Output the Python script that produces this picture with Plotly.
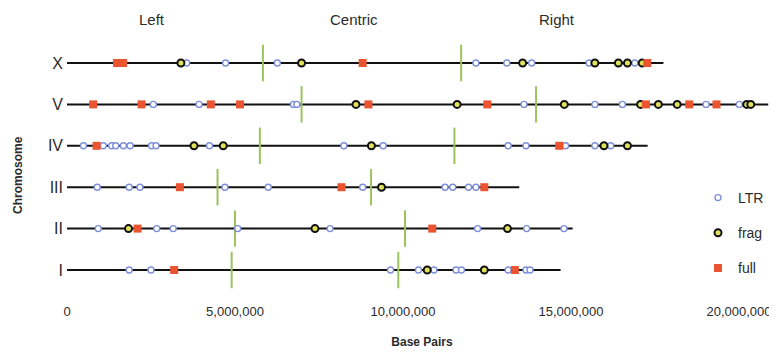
import plotly.graph_objects as go

# ---------------- data (positions in megabases) ----------------
chromosomes = ["I", "II", "III", "IV", "V", "X"]
lengths = [14.69, 15.05, 13.46, 17.28, 20.87, 17.75]
left_arm_end = [4.90, 5.00, 4.48, 5.74, 6.98, 5.83]
right_arm_start = [9.86, 10.06, 9.05, 11.53, 13.96, 11.73]

LTR_I = [1.85, 2.50, 9.63, 10.46, 10.92, 11.58, 11.74, 13.13, 13.66, 13.78]
LTR_II = [0.93, 2.67, 3.16, 5.08, 7.83, 12.22, 13.68, 14.79]
LTR_III = [0.90, 1.85, 2.17, 4.70, 5.99, 8.80, 11.25, 11.48, 11.95, 12.17]
LTR_IV = [0.49, 1.08, 1.33, 1.45, 1.68, 1.88, 2.52, 2.65, 4.24, 8.24, 9.41,
          13.13, 13.66, 14.84, 15.71, 16.18]
LTR_V = [2.57, 3.93, 6.74, 6.84, 13.60, 15.71, 16.53, 19.02, 20.01]
LTR_X = [3.56, 4.72, 6.26, 12.17, 13.09, 13.83, 15.54, 16.90]

frag_I = [10.72, 12.42]
frag_II = [1.83, 7.38, 13.11]
frag_III = [9.36]
frag_IV = [3.78, 4.65, 9.06, 15.98, 16.68]
frag_V = [8.60, 11.61, 14.80, 17.07, 17.60, 18.16, 20.23, 20.35]
frag_X = [3.39, 6.98, 13.56, 15.71, 16.41, 16.68, 17.12]

full_I = [3.19, 13.33]
full_II = [2.10, 10.87]
full_III = [3.36, 8.17, 12.42]
full_IV = [0.88, 14.65]
full_V = [0.78, 2.22, 4.28, 5.15, 8.97, 12.51, 17.23, 18.52, 19.33]
full_X = [1.49, 1.67, 8.80, 17.27]

tick_vals = [0, 5, 10, 15, 20]
tick_labels = ["0", "5,000,000", "10,000,000", "15,000,000", "20,000,000"]
region_labels = ["Left", "Centric", "Right"]
region_centers = [2.53, 8.54, 14.58]

LTR = [LTR_I, LTR_II, LTR_III, LTR_IV, LTR_V, LTR_X]
FRAG = [frag_I, frag_II, frag_III, frag_IV, frag_V, frag_X]
FULL = [full_I, full_II, full_III, full_IV, full_V, full_X]

# ---------------- geometry (page pixels, figure sits 8px in from page corner) ----------------
FONT = "Liberation Sans, Arial, Helvetica, sans-serif"
TXT = "#2b2b2b"
OFF = 8
W, H = 777 - OFF, 356 - OFF
X0_PAGE = 67          # page x of 0 bp
PX_PER_MB = 33.6
ROW_PX = 41.4
ROW0_PAGE = 270       # page y of row "I"
PLOT_BOTTOM_PAGE = 302

ML = X0_PAGE - OFF
MB = H - (PLOT_BOTTOM_PAGE - OFF)
ROW0 = ROW0_PAGE - OFF
PH = H - MB
PW = W - ML

x_range = [0, PW / PX_PER_MB]
y_range = [-(PH - ROW0) / ROW_PX, ROW0 / ROW_PX]


def px_to_paper_x(p):
    return (p - OFF - ML) / PW


def px_to_paper_y(p):
    return 1 - (p - OFF) / PH


def flat(groups):
    xs, ys = [], []
    for i, g in enumerate(groups):
        xs.extend(g)
        ys.extend([i] * len(g))
    return xs, ys


fig = go.Figure()

# chromosome lines
lx, ly = [], []
for i, L in enumerate(lengths):
    lx += [0, L, None]
    ly += [i, i, None]
fig.add_trace(go.Scatter(x=lx, y=ly, mode="lines", line=dict(color="#111111", width=2),
                         showlegend=False, hoverinfo="skip"))

# arm boundaries
gx, gy = [], []
half = 0.44
for i in range(len(chromosomes)):
    for b in (left_arm_end[i], right_arm_start[i]):
        gx += [b, b, None]
        gy += [i - half, i + half, None]
fig.add_trace(go.Scatter(x=gx, y=gy, mode="lines", line=dict(color="#9cc35c", width=2),
                         showlegend=False, hoverinfo="skip"))

x, y = flat(LTR)
fig.add_trace(go.Scatter(x=x, y=y, mode="markers", name="LTR", legendgroup="a",
                         marker=dict(symbol="circle", size=6, color="white",
                                     line=dict(color="#7d8fd8", width=1.4)),
                         cliponaxis=False))
x, y = flat(FRAG)
fig.add_trace(go.Scatter(x=x, y=y, mode="markers", name="frag", legendgroup="b",
                         marker=dict(symbol="circle", size=7, color="#dfe25a",
                                     line=dict(color="#111111", width=2)),
                         cliponaxis=False))
x, y = flat(FULL)
fig.add_trace(go.Scatter(x=x, y=y, mode="markers", name="full", legendgroup="c",
                         marker=dict(symbol="square", size=8, color="#ea5430",
                                     line=dict(width=0)),
                         cliponaxis=False))

for lab, cx in zip(region_labels, region_centers):
    fig.add_annotation(x=cx, y=(ROW0_PAGE - 19) / ROW_PX - (ROW0_PAGE - ROW0) / ROW_PX * 0,
                       xref="x", yref="y", text=lab, showarrow=False,
                       font=dict(family=FONT, size=15, color=TXT))

fig.add_annotation(xref="paper", yref="paper", x=px_to_paper_x(18), y=px_to_paper_y(175),
                   xanchor="center", yanchor="middle",
                   text="<b>Chromosome</b>", textangle=-90,
                   showarrow=False, font=dict(family=FONT, size=12, color=TXT))

fig.update_layout(
    width=W, height=H,
    margin=dict(l=ML, r=0, t=0, b=MB, autoexpand=False),
    paper_bgcolor="white", plot_bgcolor="white",
    font=dict(family=FONT, color=TXT),
    legend=dict(x=px_to_paper_x(698), y=px_to_paper_y(182), xanchor="left", yanchor="top",
                font=dict(family=FONT, size=14, color=TXT), tracegroupgap=14,
                traceorder="grouped", bgcolor="rgba(0,0,0,0)", itemwidth=30),
    xaxis=dict(range=x_range, tickvals=tick_vals, ticktext=tick_labels, showgrid=False,
               zeroline=False, showline=False, ticks="", automargin=False,
               tickfont=dict(family=FONT, size=13, color=TXT),
               title=dict(text="<b>Base Pairs</b>", font=dict(family=FONT, size=12, color=TXT),
                          standoff=19)),
    yaxis=dict(range=y_range, tickvals=list(range(len(chromosomes))), ticktext=chromosomes,
               showgrid=False, zeroline=False, showline=False, ticks="", ticklabelstandoff=3,
               automargin=False, tickfont=dict(family=FONT, size=16, color=TXT)),
)

fig.write_html("out.html")
